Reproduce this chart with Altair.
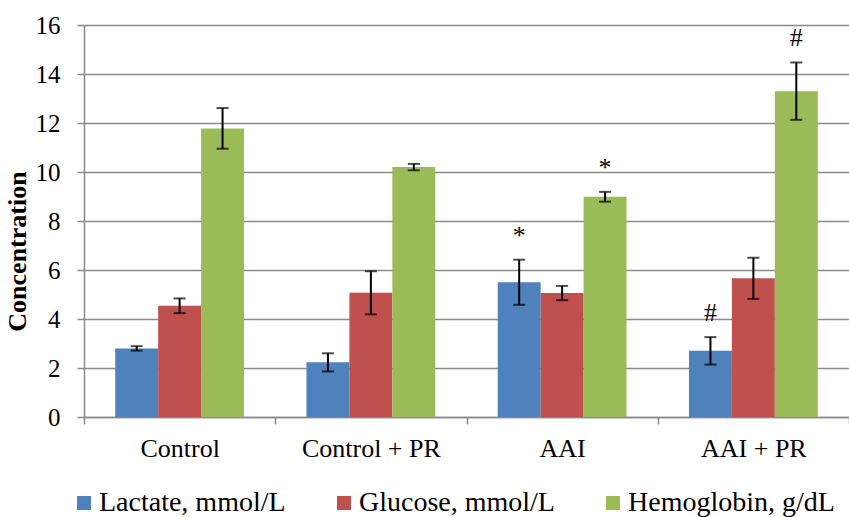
import altair as alt
import pandas as pd

categories = ["Control", "Control + PR", "AAI", "AAI + PR"]
series = ["Lactate, mmol/L", "Glucose, mmol/L", "Hemoglobin, g/dL"]

lactate = [2.8, 2.23, 5.5, 2.7]
glucose = [4.54, 5.07, 5.06, 5.66]
hemoglobin = [11.78, 10.2, 8.99, 13.3]

lactate_err = [0.09, 0.37, 0.92, 0.56]
glucose_err = [0.3, 0.88, 0.29, 0.84]
hemoglobin_err = [0.83, 0.13, 0.2, 1.17]

lactate_mark = ["", "", "*", "#"]
glucose_mark = ["", "", "", ""]
hemoglobin_mark = ["", "", "*", "#"]

y_ticks = [0, 2, 4, 6, 8, 10, 12, 14, 16]
colors = ["#4F81BD", "#C0504D", "#9BBB59"]

rows = []
for s, vals, errs, marks in zip(series,
                                [lactate, glucose, hemoglobin],
                                [lactate_err, glucose_err, hemoglobin_err],
                                [lactate_mark, glucose_mark, hemoglobin_mark]):
    for c, v, e, m in zip(categories, vals, errs, marks):
        rows.append({"category": c, "series": s, "value": v,
                     "lo": v - e, "hi": v + e, "mark": m})
df = pd.DataFrame(rows)

FONT = "Liberation Serif"
GRAY = "#8a8a8a"

x_enc = alt.X("category:N", sort=categories,
              scale=alt.Scale(paddingInner=0, paddingOuter=0),
              axis=alt.Axis(title=None, labelAngle=0, tickBand="extent",
                            labelFont=FONT, labelFontSize=26, labelColor="black",
                            tickSize=7, tickColor=GRAY, tickWidth=1.5,
                            domainColor=GRAY, domainWidth=1.5,
                            labelPadding=11, grid=False))
xo_enc = alt.XOffset("series:N", sort=series,
                     scale=alt.Scale(paddingInner=0, paddingOuter=0.727))
y_scale = alt.Scale(domain=[0, 16], nice=False, zero=True)
y_axis = alt.Axis(values=y_ticks, title="Concentration",
                  labelFont=FONT, labelFontSize=25, labelColor="black",
                  labelPadding=17, tickSize=7, tickColor=GRAY, tickWidth=1.5,
                  domainColor=GRAY, domainWidth=1.5,
                  gridColor=GRAY, gridWidth=1.5,
                  titleFont=FONT, titleFontSize=26, titleFontWeight="bold",
                  titleColor="black", titleAngle=270, titleX=-59, titleY=226,
                  titleAlign="center", titleBaseline="alphabetic")

base = alt.Chart(df)

bars = base.mark_bar().encode(
    x=x_enc,
    xOffset=xo_enc,
    y=alt.Y("value:Q", scale=y_scale, axis=y_axis),
    color=alt.Color("series:N", sort=series,
                    scale=alt.Scale(domain=series, range=colors),
                    legend=alt.Legend(title=None, orient="none", legendX=-14, legendY=464,
                                      direction="horizontal", symbolType="square",
                                      symbolSize=196, symbolStrokeWidth=0,
                                      labelFont=FONT, labelFontSize=28, labelColor="black",
                                      labelLimit=400,
                                      columnPadding=44, labelOffset=1)),
)

rules = base.mark_rule(color="black", strokeWidth=2).encode(
    x=x_enc, xOffset=xo_enc,
    y=alt.Y("lo:Q", scale=y_scale, axis=y_axis), y2="hi:Q",
)

cap_lo = base.mark_tick(color="black", thickness=2, size=12).encode(
    x=x_enc, xOffset=xo_enc, y=alt.Y("lo:Q", scale=y_scale, axis=y_axis),
)
cap_hi = base.mark_tick(color="black", thickness=2, size=12).encode(
    x=x_enc, xOffset=xo_enc, y=alt.Y("hi:Q", scale=y_scale, axis=y_axis),
)

labels = base.mark_text(baseline="alphabetic", dy=-16, font=FONT, fontSize=26,
                        color="black").encode(
    x=x_enc, xOffset=xo_enc, y=alt.Y("hi:Q", scale=y_scale, axis=y_axis), text="mark:N",
)

chart = alt.layer(bars, rules, cap_lo, cap_hi, labels).properties(
    width=765, height=392,
    padding={"left": 84, "top": 25, "right": 0, "bottom": 100},
    autosize=alt.AutoSizeParams(type="none"),
    background="white",
).configure(font=FONT).configure_axis(
    labelFont=FONT, titleFont=FONT
).configure_legend(
    labelFont=FONT
).configure_view(stroke=None)

chart.save("out.html", embed_options={"renderer": "svg", "actions": False})
